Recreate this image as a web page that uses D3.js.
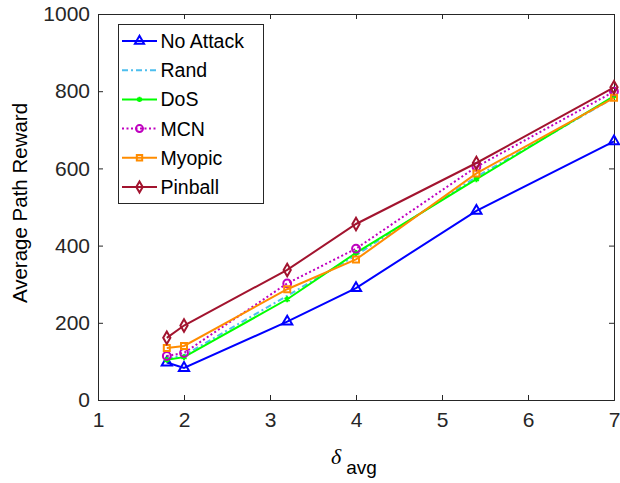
<!DOCTYPE html>
<html>
<head>
<meta charset="utf-8">
<script src="https://cdn.jsdelivr.net/npm/d3@7"></script>
<style>
  html, body { margin: 0; padding: 0; background: #fff; }
  svg { display: block; font-family: "Liberation Sans", Arial, Helvetica, sans-serif; }
</style>
</head>
<body>
<svg id="chart" width="620" height="483"></svg>
<script>
const xValues = [1.8, 2, 3.2, 4, 5.4, 7];
const seriesNames = ["No Attack", "Rand", "DoS", "MCN", "Myopic", "Pinball"];
const noAttack = [97, 83, 203, 290, 490, 670];
const rand = [107, 116, 270, 375, 578, 783];
const dos = [104, 111, 261, 381, 572, 787];
const mcn = [114, 122, 302, 392, 604, 799];
const myopic = [135, 140, 287, 364, 587, 783];
const pinball = [161, 193, 337, 456, 614, 810];
const xTicks = [1, 2, 3, 4, 5, 6, 7];
const yTicks = [0, 200, 400, 600, 800, 1000];

const styles = {
  "No Attack": { color: "#0000FF", dash: null, marker: "triangle", size: 45, fill: "none" },
  "Rand":      { color: "#4DBEEE", dash: "6,3,2,3", marker: "none", size: 0, fill: "none" },
  "DoS":       { color: "#00FF00", dash: null, marker: "star", size: 25, fill: "none" },
  "MCN":       { color: "#BF00BF", dash: "2,2.5", marker: "circle", size: 48, fill: "none" },
  "Myopic":    { color: "#FF8C00", dash: null, marker: "square", size: 36, fill: "none" },
  "Pinball":   { color: "#A2142F", dash: null, marker: "diamond", size: 45, fill: "none" }
};
const seriesData = [noAttack, rand, dos, mcn, myopic, pinball];

const svg = d3.select("#chart");
const margin = { left: 98, right: 6, top: 14, bottom: 83 };
const W = 620, H = 483;
const x = d3.scaleLinear().domain([1, 7]).range([margin.left, W - margin.right]);
const y = d3.scaleLinear().domain([0, 1000]).range([H - margin.bottom, margin.top]);
const axisColor = "#262626";

// axes
const gx = svg.append("g").attr("transform", `translate(0,${y(0)})`)
  .call(d3.axisBottom(x).tickValues(xTicks).tickSize(-5).tickPadding(12).tickFormat(d3.format("d")));
const gy = svg.append("g").attr("transform", `translate(${x(1)},0)`)
  .call(d3.axisLeft(y).tickValues(yTicks).tickSize(-5).tickPadding(8).tickFormat(d3.format("d")));
const gxt = svg.append("g").attr("transform", `translate(0,${y(1000)})`)
  .call(d3.axisTop(x).tickValues(xTicks).tickSize(-5).tickFormat(""));
const gyr = svg.append("g").attr("transform", `translate(${x(7)},0)`)
  .call(d3.axisRight(y).tickValues(yTicks).tickSize(-5).tickFormat(""));
[gx, gy, gxt, gyr].forEach(g => {
  g.selectAll("path.domain").attr("stroke", axisColor).attr("stroke-width", 1);
  g.selectAll(".tick line").attr("stroke", axisColor).attr("stroke-width", 1);
  g.selectAll(".tick text").attr("fill", axisColor).style("font-size", "21px");
});

function markerPath(type, size) {
  const m = { triangle: d3.symbolTriangle, circle: d3.symbolCircle, square: d3.symbolSquare, diamond: d3.symbolDiamond, star: d3.symbolAsterisk }[type];
  return d3.symbol().type(m).size(size)();
}

const line = d3.line().x((d, i) => x(xValues[i])).y(d => y(d));
seriesNames.forEach((name, k) => {
  const st = styles[name];
  const vals = seriesData[k];
  svg.append("path").datum(vals)
    .attr("d", line).attr("fill", "none")
    .attr("stroke", st.color).attr("stroke-width", 2)
    .attr("stroke-dasharray", st.dash);
  if (st.marker !== "none") {
    svg.append("g").selectAll("path").data(vals).join("path")
      .attr("transform", (d, i) => `translate(${x(xValues[i])},${y(d)})`)
      .attr("d", markerPath(st.marker, st.size))
      .attr("fill", st.fill).attr("stroke", st.color).attr("stroke-width", 2);
  }
});

// legend
const lg = svg.append("g");
lg.append("rect").attr("x", 118.5).attr("y", 24.5).attr("width", 145).attr("height", 179)
  .attr("fill", "#fff").attr("stroke", axisColor).attr("stroke-width", 1);
seriesNames.forEach((name, k) => {
  const st = styles[name];
  const cy = 41 + k * 29.2;
  lg.append("line").attr("x1", 122).attr("x2", 157).attr("y1", cy).attr("y2", cy)
    .attr("stroke", st.color).attr("stroke-width", 2).attr("stroke-dasharray", st.dash);
  if (st.marker !== "none") {
    lg.append("path").attr("transform", `translate(139.5,${cy})`)
      .attr("d", markerPath(st.marker, st.size * 0.8))
      .attr("fill", st.fill).attr("stroke", st.color).attr("stroke-width", 2);
  }
  lg.append("text").attr("x", 160.5).attr("y", cy + 7).attr("fill", "#000")
    .style("font-size", "19.5px").text(name);
});

// axis labels
svg.append("text").attr("transform", `translate(27,${(y(0) + y(1000)) / 2 - 4}) rotate(-90)`)
  .attr("text-anchor", "middle").attr("fill", "#000").style("font-size", "20.5px")
  .text("Average Path Reward");
const xl = svg.append("text").attr("x", 331).attr("y", 464).attr("fill", "#000");
xl.append("tspan").style("font-family", "'Liberation Serif', 'DejaVu Serif', serif")
  .style("font-style", "italic").style("font-size", "22px").text("δ");
xl.append("tspan").attr("dx", 5).attr("dy", 10).style("font-size", "19px").text("avg");
</script>
</body>
</html>
